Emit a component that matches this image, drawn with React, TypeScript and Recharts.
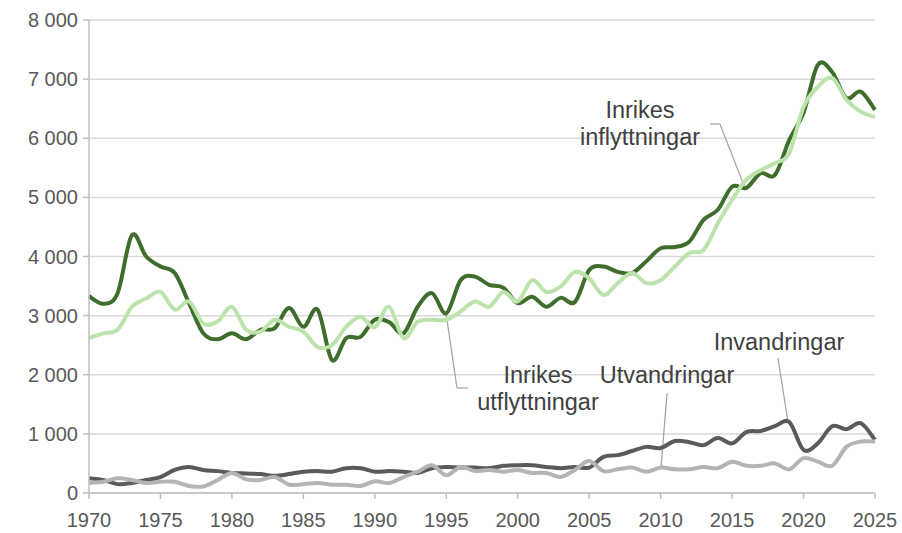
import React from 'react';
import { LineChart, Line, XAxis, YAxis, CartesianGrid, ReferenceLine } from 'recharts';

const years = Array.from({ length: 56 }, (_, i) => 1970 + i);
const xTicks = [1970, 1975, 1980, 1985, 1990, 1995, 2000, 2005, 2010, 2015, 2020, 2025];
const yTicks = [0, 1000, 2000, 3000, 4000, 5000, 6000, 7000, 8000];

const inflyttningar = [
  3330, 3200, 3380, 4360, 4000, 3830, 3720, 3210, 2700, 2600,
  2700, 2600, 2760, 2790, 3130, 2810, 3100, 2250, 2620, 2640,
  2930, 2890, 2700, 3150, 3380, 3040, 3600, 3660, 3520, 3470,
  3210, 3320, 3150, 3300, 3230, 3770, 3830, 3740, 3720, 3920,
  4140, 4160, 4250, 4620, 4790, 5180, 5160, 5410, 5380, 5970,
  6430, 7240, 7120, 6680, 6790, 6480,
];
const utflyttningar = [
  2620, 2700, 2760, 3150, 3290, 3400, 3100, 3240, 2870, 2900,
  3150, 2760, 2730, 2930, 2810, 2730, 2470, 2500, 2810, 2980,
  2800, 3150, 2620, 2900, 2930, 2930, 3070, 3240, 3150, 3400,
  3240, 3600, 3400, 3490, 3740, 3630, 3350, 3550, 3720, 3550,
  3600, 3830, 4060, 4110, 4560, 4960, 5300, 5460, 5580, 5750,
  6530, 6870, 7020, 6650, 6450, 6360,
];
const invandringar = [
  250, 220, 150, 170, 220, 270, 390, 440, 390, 370,
  340, 330, 320, 290, 320, 360, 370, 360, 420, 420,
  360, 370, 360, 340, 420, 440, 430, 430, 420, 460,
  470, 470, 440, 420, 440, 430, 610, 640, 710, 780,
  760, 880, 860, 810, 930, 840, 1030, 1050, 1130, 1200,
  730, 840, 1130, 1080, 1180, 900,
];
const utvandringar = [
  170, 190, 250, 220, 170, 190, 190, 120, 110, 220,
  340, 230, 220, 270, 140, 150, 170, 140, 140, 120,
  200, 170, 270, 360, 470, 300, 440, 370, 390, 360,
  390, 340, 340, 270, 390, 540, 370, 400, 430, 360,
  430, 400, 400, 440, 420, 530, 460, 460, 500, 400,
  590, 530, 460, 780, 870, 870,
];

const data = years.map((year, i) => ({
  year,
  inflyttningar: inflyttningar[i],
  utflyttningar: utflyttningar[i],
  invandringar: invandringar[i],
  utvandringar: utvandringar[i],
}));

// Excel-like smoothed line (Catmull-Rom style Bezier)
const smoothCurve: any = (context: any) => {
  let pts: number[][] = [];
  return {
    areaStart() {},
    areaEnd() {},
    lineStart() {
      pts = [];
    },
    point(x: number, y: number) {
      pts.push([+x, +y]);
    },
    lineEnd() {
      const n = pts.length;
      if (!n) return;
      context.moveTo(pts[0][0], pts[0][1]);
      if (n === 1) return;
      const k = 1 / 6;
      for (let i = 0; i < n - 1; i++) {
        const p0 = pts[Math.max(i - 1, 0)];
        const p1 = pts[i];
        const p2 = pts[i + 1];
        const p3 = pts[Math.min(i + 2, n - 1)];
        context.bezierCurveTo(
          p1[0] + (p2[0] - p0[0]) * k,
          p1[1] + (p2[1] - p0[1]) * k,
          p2[0] - (p3[0] - p1[0]) * k,
          p2[1] - (p3[1] - p1[1]) * k,
          p2[0],
          p2[1]
        );
      }
    },
  };
};

const fmt = (v: number) => (v >= 1000 ? `${Math.floor(v / 1000)} ${String(v % 1000).padStart(3, '0')}` : String(v));

const FONT = '"Liberation Sans", Arial, sans-serif';
const tickStyle = { fontSize: 20, fill: '#595959', fontFamily: FONT };
const leader = { stroke: '#a6a6a6', strokeWidth: 1.3 };

export default function App() {
  return (
    <div style={{ position: 'absolute', left: 0, top: 0, width: 902, height: 533, background: '#fff' }}>
      <LineChart width={902} height={533} data={data} margin={{ top: 20, right: 27, bottom: 0, left: 0 }}>
        <CartesianGrid vertical={false} stroke="#d9d9d9" strokeWidth={1.5} />
        <XAxis
          dataKey="year"
          type="number"
          domain={[1970, 2025]}
          ticks={xTicks}
          height={40}
          tick={tickStyle}
          tickSize={6}
          tickMargin={14}
          stroke="#bfbfbf"
          strokeWidth={1.5}
        />
        <YAxis
          domain={[0, 8000]}
          ticks={yTicks}
          width={89}
          tick={tickStyle}
          tickFormatter={fmt}
          tickSize={6}
          tickMargin={5}
          stroke="#bfbfbf"
          strokeWidth={1.5}
        />
        <ReferenceLine segment={[{ x: 2013.45, y: 6241 }, { x: 2014.15, y: 6241 }]} {...leader} />
        <ReferenceLine segment={[{ x: 2014.15, y: 6241 }, { x: 2015.9, y: 5159 }]} {...leader} />
        <ReferenceLine segment={[{ x: 1996.52, y: 1776 }, { x: 1995.75, y: 1776 }]} {...leader} />
        <ReferenceLine segment={[{ x: 1995.75, y: 1776 }, { x: 1994.98, y: 3044 }]} {...leader} />
        <ReferenceLine segment={[{ x: 2010.45, y: 1691 }, { x: 2010.03, y: 440 }]} {...leader} />
        <ReferenceLine segment={[{ x: 2018.21, y: 2283 }, { x: 2018.91, y: 1201 }]} {...leader} />
        <Line dataKey="invandringar" type={smoothCurve} stroke="#5a5a5a" strokeWidth={4} dot={false} isAnimationActive={false} />
        <Line dataKey="utvandringar" type={smoothCurve} stroke="#b4b4b4" strokeWidth={4} dot={false} isAnimationActive={false} />
        <Line dataKey="inflyttningar" type={smoothCurve} stroke="#3f6e2c" strokeWidth={4} dot={false} isAnimationActive={false} />
        <Line dataKey="utflyttningar" type={smoothCurve} stroke="#bce3ac" strokeWidth={4} dot={false} isAnimationActive={false} />
      </LineChart>
      <svg width={902} height={533} style={{ position: 'absolute', left: 0, top: 0, pointerEvents: 'none' }}>
        <g fontFamily={FONT} fontSize={23.5} fill="#404040" textAnchor="middle">
          <text x={640} y={118}>Inrikes</text>
          <text x={640} y={145}>inflyttningar</text>
          <text x={538} y={383}>Inrikes</text>
          <text x={538} y={410}>utflyttningar</text>
          <text x={667} y={383}>Utvandringar</text>
          <text x={779} y={350}>Invandringar</text>
        </g>
      </svg>
    </div>
  );
}
